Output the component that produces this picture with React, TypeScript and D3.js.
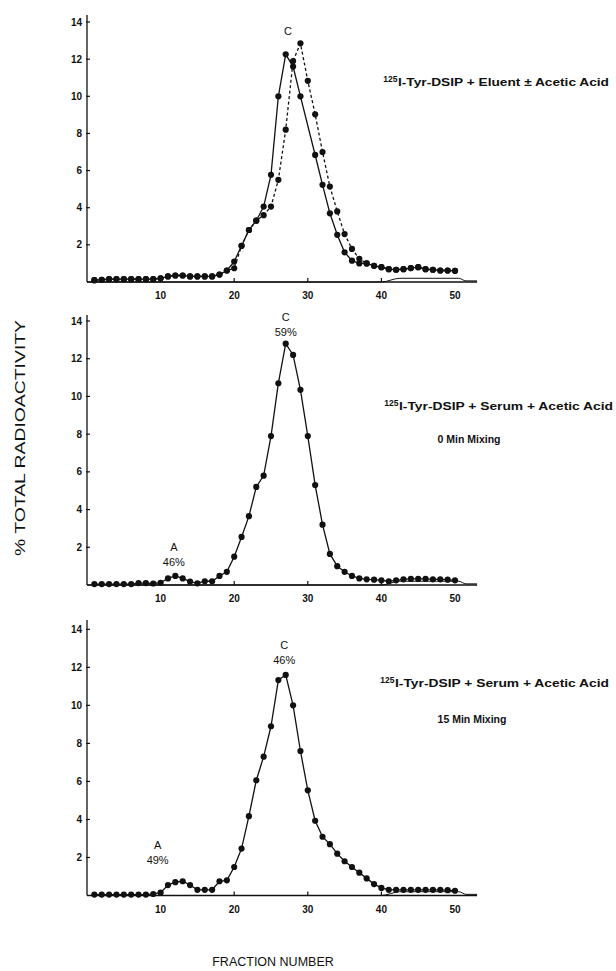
import React, { useEffect, useRef } from "react";
import * as d3 from "d3";

// fraction numbers 1..50
const fractions = [
  1, 2, 3, 4, 5, 6, 7, 8, 9, 10, 11, 12, 13, 14, 15, 16, 17, 18, 19, 20, 21, 22, 23, 24, 25,
  26, 27, 28, 29, 30, 31, 32, 33, 34, 35, 36, 37, 38, 39, 40, 41, 42, 43, 44, 45, 46, 47, 48, 49, 50,
];

// panel 1: eluent +/- acetic acid (solid / dashed)
const eluentSolid = [
  0.1, 0.12, 0.15, 0.15, 0.15, 0.15, 0.15, 0.15, 0.15, 0.2, 0.3, 0.35, 0.35, 0.3, 0.3, 0.3, 0.3, 0.4, 0.62, 1.1,
  1.95, 2.8, 3.3, 4.06, 5.77, 10.0, 12.26, 11.6, 10.0, null, 6.84, 5.23, 3.7, 2.54, 1.6, 1.15, 1.0, 1.0, 0.87, 0.8,
  0.69, 0.66, 0.69, 0.75, 0.8, 0.69, 0.66, 0.62, 0.62, 0.6,
];
const eluentDashed = [
  0.1, 0.12, 0.15, 0.15, 0.15, 0.15, 0.15, 0.15, 0.15, 0.2, 0.3, 0.35, 0.35, 0.3, 0.3, 0.3, 0.3, 0.4, 0.62, 0.74,
  1.95, 2.8, 3.3, 3.6, 4.06, 5.5, 8.2, 11.9, 12.85, 10.83, 9.03, 7.0, 5.14, 3.8, 2.58, 1.78, 1.25, 1.0, 0.87, 0.8,
  0.69, 0.66, 0.69, 0.75, 0.8, 0.69, 0.66, 0.62, 0.62, 0.6,
];

// panel 2: serum, 0 min mixing
const serum0 = [
  0.05, 0.05, 0.05, 0.05, 0.05, 0.05, 0.1, 0.1, 0.08, 0.12, 0.35, 0.48, 0.35, 0.18, 0.09, 0.2, 0.2, 0.48, 0.7, 1.5,
  2.55, 3.65, 5.2, 5.8, 7.9, 10.7, 12.8, 12.2, 10.35, 7.9, 5.3, 3.2, 1.65, 1.0, 0.7, 0.48, 0.35, 0.3, 0.28, 0.25,
  0.2, 0.25, 0.3, 0.32, 0.32, 0.32, 0.3, 0.3, 0.28, 0.25,
];

// panel 3: serum, 15 min mixing
const serum15 = [
  0.05, 0.05, 0.05, 0.05, 0.05, 0.05, 0.05, 0.05, 0.08, 0.15, 0.55, 0.7, 0.75, 0.55, 0.3, 0.3, 0.3, 0.75, 0.8, 1.5,
  2.47, 4.17, 6.06, 7.3, 8.9, 11.33, 11.6, 10.0, 7.6, 5.53, 3.93, 3.09, 2.7, 2.2, 1.8, 1.5, 1.2, 0.9, 0.6, 0.4,
  0.3, 0.3, 0.3, 0.3, 0.3, 0.3, 0.3, 0.3, 0.28, 0.25,
];

// small recorder trace near the baseline at the right
const traceFractions = [0, 40, 42.5, 50.5, 51.5, 53];
const traceValues = [0, 0, 0.2, 0.2, 0.06, 0.06];

const yTicks = [2, 4, 6, 8, 10, 12, 14];
const xTicks = [10, 20, 30, 40, 50];

const FONT = "'Liberation Sans', Arial, Helvetica, sans-serif";
const INK = "#111";

const panels = [
  {
    zero: 282, top14: 22, axisTop: 15,
    series: [
      { values: eluentSolid, dashed: false },
      { values: eluentDashed, dashed: true },
    ],
    peaks: [{ f: 27.3, lines: ["C"], y: 31 }],
    caption: { x: 398, end: 609, y: 86, text: "I-Tyr-DSIP + Eluent ± Acetic Acid" },
    sub: null,
  },
  {
    zero: 585, top14: 321, axisTop: 315,
    series: [{ values: serum0, dashed: false }],
    peaks: [
      { f: 27, lines: ["C", "59%"], y: 317 },
      { f: 11.8, lines: ["A", "46%"], y: 547 },
    ],
    caption: { x: 399, end: 613, y: 410, text: "I-Tyr-DSIP + Serum + Acetic Acid" },
    sub: { x: 469, y: 443, text: "0 Min Mixing" },
  },
  {
    zero: 895.5, top14: 629.3, axisTop: 620,
    series: [{ values: serum15, dashed: false }],
    peaks: [
      { f: 26.8, lines: ["C", "46%"], y: 645 },
      { f: 9.6, lines: ["A", "49%"], y: 845 },
    ],
    caption: { x: 395, end: 609, y: 687, text: "I-Tyr-DSIP + Serum + Acetic Acid" },
    sub: { x: 472, y: 723, text: "15 Min Mixing" },
  },
];

function App() {
  const ref = useRef(null);

  useEffect(() => {
    const svg = d3.select(ref.current);
    svg.selectAll("*").remove();

    var x = d3.scaleLinear().domain([0, 50]).range([87, 455]);

    panels.forEach((p, i) => {
      var y = d3.scaleLinear().domain([0, 14]).range([p.zero, p.top14]);
      var g = svg.append("g").attr("class", "panel_" + i);

      // axes
      g.append("line")
        .attr("x1", x(0)).attr("x2", x(0))
        .attr("y1", p.zero).attr("y2", p.axisTop)
        .attr("stroke", INK).attr("stroke-width", 1.3);
      g.append("line")
        .attr("x1", x(0)).attr("x2", x(53))
        .attr("y1", p.zero).attr("y2", p.zero)
        .attr("stroke", INK).attr("stroke-width", 1.3);

      var trace = d3.line()
        .x((d) => x(d[0]))
        .y((d) => y(d[1]))
        .curve(d3.curveMonotoneX);
      g.append("path")
        .attr("d", trace(traceFractions.map((f, k) => [f, traceValues[k]])))
        .attr("fill", "none").attr("stroke", INK).attr("stroke-width", 1);

      g.selectAll(".ytick")
        .data(yTicks)
        .join("line")
        .attr("class", "ytick")
        .attr("x1", x(0) - 1).attr("x2", x(0) + 3)
        .attr("y1", (d) => y(d)).attr("y2", (d) => y(d))
        .attr("stroke", INK).attr("stroke-width", 1.2);
      g.selectAll(".ylab")
        .data(yTicks)
        .join("text")
        .attr("class", "ylab")
        .attr("x", x(0) - 5)
        .attr("y", (d) => y(d))
        .attr("dy", "0.35em")
        .attr("text-anchor", "end")
        .attr("fill", INK)
        .attr("font-family", FONT).attr("font-size", 10).attr("font-weight", "bold")
        .text((d) => d);

      g.selectAll(".xtick")
        .data(xTicks.slice(0, 4))
        .join("line")
        .attr("class", "xtick")
        .attr("x1", (d) => x(d)).attr("x2", (d) => x(d))
        .attr("y1", p.zero).attr("y2", p.zero - 4)
        .attr("stroke", INK).attr("stroke-width", 1.2);
      g.selectAll(".xlab")
        .data(xTicks)
        .join("text")
        .attr("class", "xlab")
        .attr("x", (d) => x(d))
        .attr("y", p.zero + 17)
        .attr("text-anchor", "middle")
        .attr("fill", INK)
        .attr("font-family", FONT).attr("font-size", 10).attr("font-weight", "bold")
        .text((d) => d);

      // curves
      p.series.forEach((s) => {
        var pts = fractions
          .map((f, k) => [f, s.values[k]])
          .filter((d) => d[1] !== null);
        var line = d3.line().x((d) => x(d[0])).y((d) => y(d[1]));
        g.append("path")
          .attr("d", line(pts))
          .attr("fill", "none")
          .attr("stroke", INK)
          .attr("stroke-width", 1.3)
          .attr("stroke-dasharray", s.dashed ? "3,2.5" : null);
        g.append("g")
          .selectAll("circle")
          .data(pts)
          .join("circle")
          .attr("cx", (d) => x(d[0]))
          .attr("cy", (d) => y(d[1]))
          .attr("r", 3.1)
          .attr("fill", INK);
      });

      // peak labels
      p.peaks.forEach((pk) => {
        pk.lines.forEach((t, k) => {
          g.append("text")
            .attr("x", x(pk.f))
            .attr("y", pk.y + k * 15)
            .attr("dy", "0.35em")
            .attr("text-anchor", "middle")
            .attr("fill", INK)
            .attr("font-family", FONT).attr("font-size", 11)
            .text(t);
        });
      });

      // caption
      var c = p.caption;
      g.append("text")
        .attr("x", c.x - 0.5).attr("y", c.y - 4)
        .attr("text-anchor", "end")
        .attr("fill", INK)
        .attr("font-family", FONT).attr("font-size", 8.5).attr("font-weight", "bold")
        .text("125");
      g.append("text")
        .attr("x", c.x).attr("y", c.y)
        .attr("fill", INK)
        .attr("font-family", FONT).attr("font-size", 11).attr("font-weight", "bold")
        .attr("textLength", c.end - c.x)
        .attr("lengthAdjust", "spacingAndGlyphs")
        .text(c.text);
      if (p.sub) {
        g.append("text")
          .attr("x", p.sub.x).attr("y", p.sub.y)
          .attr("text-anchor", "middle")
          .attr("fill", INK)
          .attr("font-family", FONT).attr("font-size", 10.5).attr("font-weight", "bold")
          .text(p.sub.text);
      }
    });

    svg.append("text")
      .attr("transform", "translate(25, 438) rotate(-90)")
      .attr("text-anchor", "middle")
      .attr("fill", INK)
      .attr("font-family", FONT).attr("font-size", 14)
      .attr("textLength", 236)
      .attr("lengthAdjust", "spacingAndGlyphs")
      .text("% TOTAL RADIOACTIVITY");

    svg.append("text")
      .attr("x", 273).attr("y", 966)
      .attr("text-anchor", "middle")
      .attr("fill", INK)
      .attr("font-family", FONT).attr("font-size", 12.5)
      .text("FRACTION NUMBER");
  }, []);

  return (
    <svg
      ref={ref}
      width={616}
      height={971}
      style={{ position: "absolute", left: 0, top: 0, background: "#fff" }}
    />
  );
}

export default App;
